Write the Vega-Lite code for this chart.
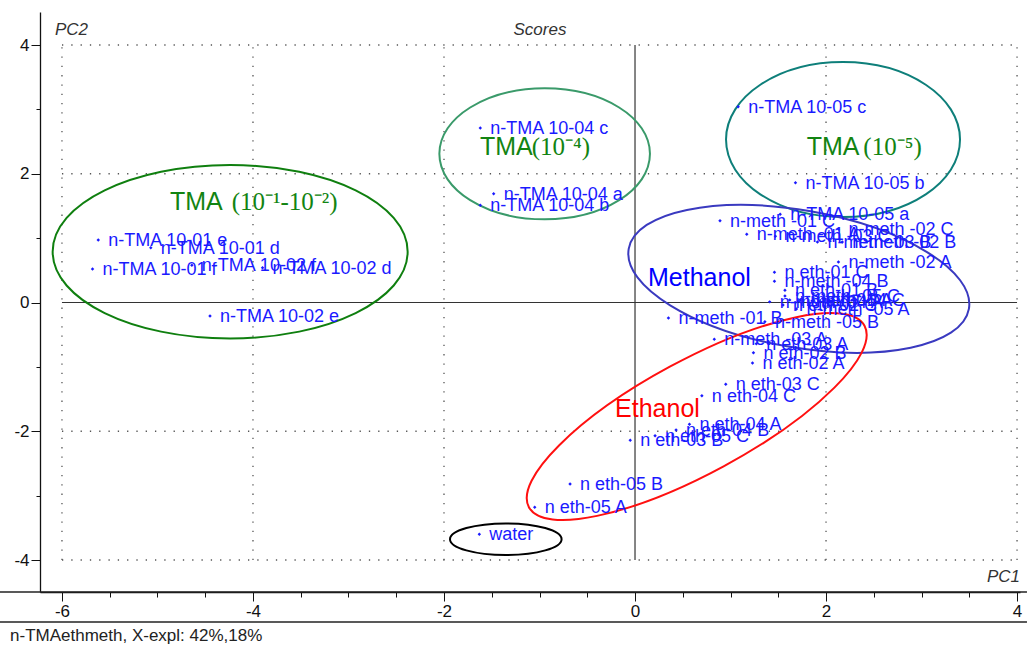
{
  "$schema": "https://vega.github.io/schema/vega-lite/v6.json",
  "width": 980,
  "height": 580,
  "autosize": {"type": "none"},
  "padding": {"left": 40, "top": 12, "right": 7, "bottom": 57},
  "background": "white",
  "config": {"view": {"stroke": null}, "axis": {"grid": false}},
  "datasets": {
    "scores": [
      {"name": "n-TMA 10-01 e", "PC1": -5.62, "PC2": 0.97},
      {"name": "n-TMA 10-01 d", "PC1": -5.07, "PC2": 0.85},
      {"name": "n-TMA 10-01 f", "PC1": -5.68, "PC2": 0.52},
      {"name": "n-TMA 10-02 f", "PC1": -4.64, "PC2": 0.58},
      {"name": "n-TMA 10-02 d", "PC1": -3.9, "PC2": 0.54},
      {"name": "n-TMA 10-02 e", "PC1": -4.45, "PC2": -0.21},
      {"name": "n-TMA 10-04 c", "PC1": -1.62, "PC2": 2.71},
      {"name": "n-TMA 10-04 a", "PC1": -1.48, "PC2": 1.69},
      {"name": "n-TMA 10-04 b", "PC1": -1.62, "PC2": 1.51},
      {"name": "n-TMA 10-05 c", "PC1": 1.08, "PC2": 3.04},
      {"name": "n-TMA 10-05 b", "PC1": 1.68, "PC2": 1.86},
      {"name": "n-TMA 10-05 a", "PC1": 1.52, "PC2": 1.37},
      {"name": "n-meth -01 C", "PC1": 0.89, "PC2": 1.27},
      {"name": "n-meth -01 A", "PC1": 1.17, "PC2": 1.06},
      {"name": "n-meth -01 B", "PC1": 0.35, "PC2": -0.24},
      {"name": "n-meth -02 C", "PC1": 2.13, "PC2": 1.14},
      {"name": "n-meth -02 B", "PC1": 2.17, "PC2": 0.94},
      {"name": "n-meth -02 A", "PC1": 2.13, "PC2": 0.63},
      {"name": "n-meth -03 A", "PC1": 0.83, "PC2": -0.57},
      {"name": "n-meth -03 B", "PC1": 1.91, "PC2": 0.94},
      {"name": "n-meth -03 C", "PC1": 1.47, "PC2": 1.03},
      {"name": "n-meth -04 A", "PC1": 1.41, "PC2": 0.01},
      {"name": "n-meth -04 B", "PC1": 1.46, "PC2": 0.33},
      {"name": "n-meth -04 C", "PC1": 1.62, "PC2": 0.04},
      {"name": "n-meth -05 A", "PC1": 1.69, "PC2": -0.1},
      {"name": "n-meth -05 B", "PC1": 1.36, "PC2": -0.3},
      {"name": "n-meth -05 C", "PC1": 1.57, "PC2": 0.1},
      {"name": "n eth-01 C", "PC1": 1.46, "PC2": 0.47},
      {"name": "n eth-01 A", "PC1": 1.73, "PC2": 0.04},
      {"name": "n eth-01 B", "PC1": 1.57, "PC2": 0.19},
      {"name": "n eth-02 A", "PC1": 1.23, "PC2": -0.94},
      {"name": "n eth-02 B", "PC1": 1.24, "PC2": -0.78},
      {"name": "n eth-02 C", "PC1": 1.55, "PC2": -0.04},
      {"name": "n eth-03 A", "PC1": 1.27, "PC2": -0.64},
      {"name": "n eth-03 B", "PC1": -0.05, "PC2": -2.14},
      {"name": "n eth-03 C", "PC1": 0.95, "PC2": -1.27},
      {"name": "n eth-04 A", "PC1": 0.57, "PC2": -1.89},
      {"name": "n eth-04 B", "PC1": 0.43, "PC2": -1.98},
      {"name": "n eth-04 C", "PC1": 0.7, "PC2": -1.45},
      {"name": "n eth-05 A", "PC1": -1.05, "PC2": -3.18},
      {"name": "n eth-05 B", "PC1": -0.68, "PC2": -2.82},
      {"name": "n eth-05 C", "PC1": 0.21, "PC2": -2.07},
      {"name": "water", "PC1": -1.63, "PC2": -3.6}
    ],
    "ellipses": [
      {"group": "TMA1", "cx": -4.239, "cy": 0.789},
      {"group": "TMA4", "cx": -0.946, "cy": 2.31},
      {"group": "TMA5", "cx": 2.178, "cy": 2.532},
      {"group": "Methanol", "cx": 1.715, "cy": 0.368},
      {"group": "Ethanol", "cx": 0.646, "cy": -1.771},
      {"group": "water", "cx": -1.353, "cy": -3.677}
    ],
    "groupWords": [
      {"group": "TMA1", "text": "TMA", "lx": -4.869, "ly": 1.437},
      {"group": "TMA4", "text": "TMA", "lx": -1.623, "ly": 2.291},
      {"group": "TMA5", "text": "TMA", "lx": 1.798, "ly": 2.291},
      {"group": "Methanol", "text": "Methanol", "lx": 0.136, "ly": 0.256},
      {"group": "Ethanol", "text": "Ethanol", "lx": -0.209, "ly": -1.774}
    ],
    "groupPowers": [
      {"group": "TMA1", "text": "(10⁻¹-10⁻²)", "lx": -4.223, "ly": 1.437},
      {"group": "TMA4", "text": "(10⁻⁴)", "lx": -1.082, "ly": 2.291},
      {"group": "TMA5", "text": "(10⁻⁵)", "lx": 2.391, "ly": 2.291}
    ]
  },
  "layer": [
    {
      "data": {"name": "scores"},
      "mark": {"type": "point", "shape": "diamond", "filled": true, "size": 12, "color": "#1a1aff", "opacity": 0},
      "encoding": {
        "x": {
          "field": "PC1", "type": "quantitative", "title": null,
          "scale": {"domain": [-6.23, 4.031], "nice": false, "zero": false},
          "axis": {
            "title": null, "grid": false,
            "values": [-6, -5.5, -5, -4.5, -4, -3.5, -3, -2.5, -2, -1.5, -1, -0.5, 0, 0.5, 1, 1.5, 2, 2.5, 3, 3.5, 4],
            "labelExpr": "datum.value % 2 === 0 ? toString(datum.value) : ''",
            "tickSize": {"condition": {"test": "datum.value % 2 === 0", "value": 9}, "value": 5},
            "tickColor": "#111111", "tickWidth": 1, "domainColor": "#111111", "domainWidth": 1.3,
            "labelFont": "'Liberation Sans Narrow', 'Liberation Sans', Arial, sans-serif",
            "labelFontSize": 17, "labelColor": "#111111", "labelPadding": 2,
            "labelFlush": false, "labelOverlap": false
          }
        },
        "y": {
          "field": "PC2", "type": "quantitative", "title": null,
          "scale": {"domain": [-4.497, 4.513], "nice": false, "zero": false},
          "axis": {
            "title": null, "grid": false,
            "values": [-4, -3.5, -3, -2.5, -2, -1.5, -1, -0.5, 0, 0.5, 1, 1.5, 2, 2.5, 3, 3.5, 4],
            "labelExpr": "datum.value % 2 === 0 ? toString(datum.value) : ''",
            "tickSize": {"condition": {"test": "datum.value % 2 === 0", "value": 9}, "value": 4},
            "tickColor": "#111111", "tickWidth": 1, "domainColor": "#111111", "domainWidth": 1.3,
            "labelFont": "'Liberation Sans Narrow', 'Liberation Sans', Arial, sans-serif",
            "labelFontSize": 17, "labelColor": "#111111", "labelPadding": 2,
            "labelFlush": false, "labelOverlap": false
          }
        }
      }
    },
    {
      "data": {"values": [{"g": -6}, {"g": -4}, {"g": -2}, {"g": 2}, {"g": 4}]},
      "mark": {"type": "rule", "color": "#555555", "strokeWidth": 1.3, "strokeDash": [1.3, 8]},
      "encoding": {
        "x": {"field": "g", "type": "quantitative", "title": null},
        "y": {"datum": -4, "type": "quantitative", "title": null},
        "y2": {"datum": 4}
      }
    },
    {
      "data": {"values": [{"g": -4}, {"g": -2}, {"g": 2}, {"g": 4}]},
      "mark": {"type": "rule", "color": "#555555", "strokeWidth": 1.3, "strokeDash": [1.3, 8]},
      "encoding": {
        "y": {"field": "g", "type": "quantitative", "title": null},
        "x": {"datum": -6, "type": "quantitative", "title": null},
        "x2": {"datum": 4}
      }
    },
    {
      "data": {"values": [{}]},
      "mark": {"type": "rule", "color": "#333333", "strokeWidth": 1.2},
      "encoding": {
        "x": {"datum": 0, "type": "quantitative", "title": null},
        "y": {"datum": -4, "type": "quantitative", "title": null},
        "y2": {"datum": 4}
      }
    },
    {
      "data": {"values": [{}]},
      "mark": {"type": "rule", "color": "#333333", "strokeWidth": 1.2},
      "encoding": {
        "y": {"datum": 0, "type": "quantitative", "title": null},
        "x": {"datum": -6, "type": "quantitative", "title": null},
        "x2": {"datum": 4}
      }
    },
    {
      "data": {"values": [{}]},
      "mark": {"type": "rule", "color": "#222222", "strokeWidth": 1.3},
      "encoding": {
        "y": {"datum": -4.497, "type": "quantitative", "title": null},
        "x": {"datum": -6.649, "type": "quantitative", "title": null},
        "x2": {"datum": 4.104}
      }
    },
    {
      "data": {"values": [{}]},
      "mark": {"type": "rule", "color": "#222222", "strokeWidth": 1.3},
      "encoding": {
        "y": {"datum": -4.963, "type": "quantitative", "title": null},
        "x": {"datum": -6.649, "type": "quantitative", "title": null},
        "x2": {"datum": 4.104}
      }
    },
    {
      "data": {"name": "ellipses"},
      "mark": {"type": "point", "filled": false, "size": 4, "strokeWidth": 2, "opacity": 1},
      "encoding": {
        "x": {"field": "cx", "type": "quantitative", "title": null},
        "y": {"field": "cy", "type": "quantitative", "title": null},
        "shape": {
          "field": "group", "type": "nominal", "legend": null,
          "scale": {
            "domain": ["TMA1", "TMA4", "TMA5", "Methanol", "Ethanol", "water"],
            "range": [
              "M 177.5 0 C 177.5 47.9 98 86.7 0 86.7 C -98 86.7 -177.5 47.9 -177.5 0 C -177.5 -47.9 -98 -86.7 0 -86.7 C 98 -86.7 177.5 -47.9 177.5 0 Z",
              "M 105.3 0 C 105.3 36.2 58.2 65.5 0 65.5 C -58.2 65.5 -105.3 36.2 -105.3 0 C -105.3 -36.2 -58.2 -65.5 0 -65.5 C 58.2 -65.5 105.3 -36.2 105.3 0 Z",
              "M 117 0 C 117 42.8 64.6 77.5 0 77.5 C -64.6 77.5 -117 42.8 -117 0 C -117 -42.8 -64.6 -77.5 0 -77.5 C 64.6 -77.5 117 -42.8 117 0 Z",
              "M 170.1 30 C 163.5 67.2 82.1 84 -11.9 67.5 C -105.8 50.9 -176.6 7.2 -170.1 -30 C -163.5 -67.2 -82.1 -84 11.9 -67.5 C 105.8 -50.9 176.6 -7.2 170.1 30 Z",
              "M 167.8 -90.7 C 182.7 -63.2 119.6 -0.3 26.9 49.8 C -65.8 99.9 -152.9 118.2 -167.8 90.7 C -182.7 63.2 -119.6 0.3 -26.9 -49.8 C 65.8 -99.9 152.9 -118.2 167.8 -90.7 Z",
              "M 55.8 0 C 55.8 8.7 30.8 15.8 0 15.8 C -30.8 15.8 -55.8 8.7 -55.8 0 C -55.8 -8.7 -30.8 -15.8 0 -15.8 C 30.8 -15.8 55.8 -8.7 55.8 0 Z"
            ]
          }
        },
        "stroke": {
          "field": "group", "type": "nominal", "legend": null,
          "scale": {
            "domain": ["TMA1", "TMA4", "TMA5", "Methanol", "Ethanol", "water"],
            "range": ["#0f7f0f", "#3a9a6a", "#0e7f7a", "#3a3ac0", "#ff1010", "#000000"]
          }
        }
      }
    },
    {
      "data": {"name": "scores"},
      "mark": {"type": "point", "shape": "diamond", "filled": true, "size": 12, "color": "#1a1aff", "opacity": 1},
      "encoding": {
        "x": {"field": "PC1", "type": "quantitative", "title": null},
        "y": {"field": "PC2", "type": "quantitative", "title": null}
      }
    },
    {
      "data": {"name": "scores"},
      "mark": {"type": "text", "align": "left", "baseline": "middle", "dx": 10, "dy": 1, "font": "Liberation Sans", "fontSize": 18, "color": "#1a1aff"},
      "encoding": {
        "x": {"field": "PC1", "type": "quantitative", "title": null},
        "y": {"field": "PC2", "type": "quantitative", "title": null},
        "text": {"field": "name"}
      }
    },
    {
      "data": {"name": "groupWords"},
      "mark": {"type": "text", "align": "left", "baseline": "alphabetic", "font": "Liberation Sans", "fontSize": 25},
      "encoding": {
        "x": {"field": "lx", "type": "quantitative", "title": null},
        "y": {"field": "ly", "type": "quantitative", "title": null},
        "text": {"field": "text"},
        "fill": {
          "field": "group", "type": "nominal", "legend": null,
          "scale": {
            "domain": ["TMA1", "TMA4", "TMA5", "Methanol", "Ethanol"],
            "range": ["#128412", "#128412", "#128412", "#0000ff", "#ff0000"]
          }
        }
      }
    },
    {
      "data": {"name": "groupPowers"},
      "mark": {"type": "text", "align": "left", "baseline": "alphabetic", "font": "Liberation Serif", "fontSize": 25},
      "encoding": {
        "x": {"field": "lx", "type": "quantitative", "title": null},
        "y": {"field": "ly", "type": "quantitative", "title": null},
        "text": {"field": "text"},
        "fill": {"field": "group", "type": "nominal", "legend": null}
      }
    },
    {
      "data": {"values": [{}]},
      "mark": {"type": "text", "text": "PC2", "align": "left", "baseline": "middle", "font": "'Liberation Sans Narrow', 'Liberation Sans', sans-serif", "fontStyle": "italic", "fontSize": 17, "color": "#333333"},
      "encoding": {
        "x": {"datum": -6.073, "type": "quantitative", "title": null},
        "y": {"datum": 4.233, "type": "quantitative", "title": null}
      }
    },
    {
      "data": {"values": [{}]},
      "mark": {"type": "text", "text": "Scores", "align": "center", "baseline": "middle", "font": "'Liberation Sans Narrow', 'Liberation Sans', sans-serif", "fontStyle": "italic", "fontSize": 17, "color": "#333333"},
      "encoding": {
        "x": {"datum": -0.995, "type": "quantitative", "title": null},
        "y": {"datum": 4.233, "type": "quantitative", "title": null}
      }
    },
    {
      "data": {"values": [{}]},
      "mark": {"type": "text", "text": "PC1", "align": "right", "baseline": "middle", "font": "'Liberation Sans Narrow', 'Liberation Sans', sans-serif", "fontStyle": "italic", "fontSize": 17, "color": "#333333"},
      "encoding": {
        "x": {"datum": 4.031, "type": "quantitative", "title": null},
        "y": {"datum": -4.264, "type": "quantitative", "title": null}
      }
    },
    {
      "data": {"values": [{}]},
      "mark": {"type": "text", "text": "n-TMAethmeth, X-expl: 42%,18%", "align": "left", "baseline": "middle", "font": "'Liberation Sans Narrow', 'Liberation Sans', sans-serif", "fontSize": 17, "color": "#222222"},
      "encoding": {
        "x": {"datum": -6.544, "type": "quantitative", "title": null},
        "y": {"datum": -5.18, "type": "quantitative", "title": null}
      }
    }
  ]
}
